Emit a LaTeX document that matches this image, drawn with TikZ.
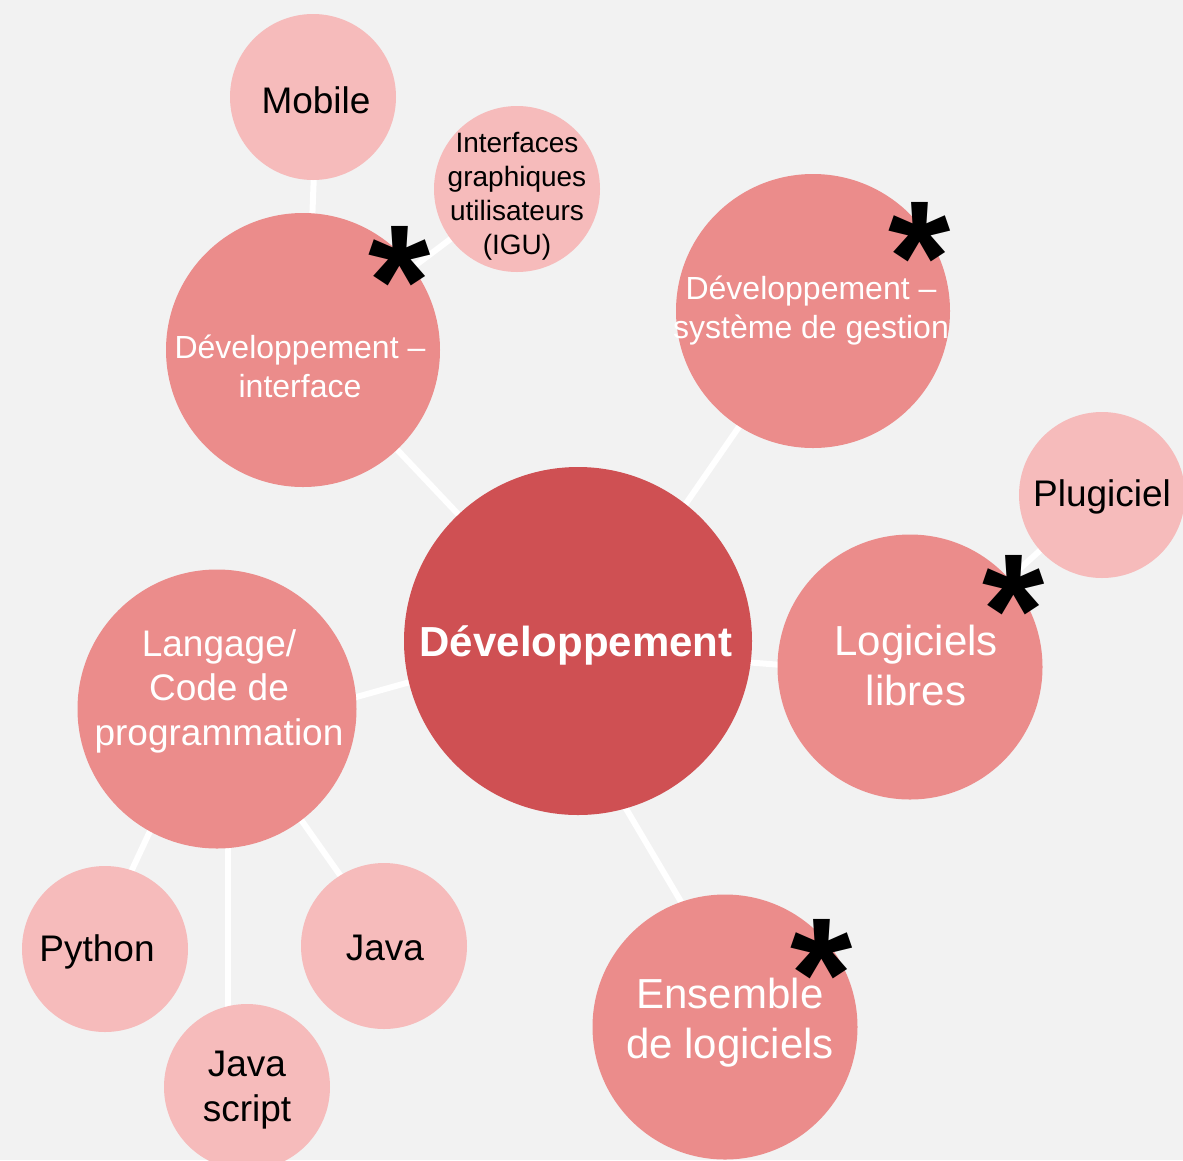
\documentclass[tikz,border=0pt]{standalone}
\usepackage{fontspec}
\setmainfont{Liberation Sans}
\usetikzlibrary{backgrounds}
\definecolor{bgc}{HTML}{F2F2F2}
\definecolor{mainc}{HTML}{CF5053}
\definecolor{midc}{HTML}{EB8C8B}
\definecolor{smallc}{HTML}{F6BBBB}
\begin{document}
\begin{tikzpicture}[x=1pt,y=-1pt,
  bubble/.style={circle,inner sep=0pt,draw=none},
  bigc/.style={bubble,fill=mainc,minimum size=348pt},
  midb/.style={bubble,fill=midc},
  smallb/.style={bubble,fill=smallc,minimum size=166pt},
  wtxt/.style={text=white,align=center},
  btxt/.style={text=black,align=center},
  fa/.style={font=\fontsize{42}{50}\selectfont},
  fb/.style={font=\fontsize{37}{44.5}\selectfont},
  fc/.style={font=\fontsize{32}{39}\selectfont},
  fd/.style={font=\fontsize{28}{34}\selectfont},
  link/.style={draw=white,line width=6pt},
  star/.style={font=\fontsize{160}{160}\bfseries\selectfont,inner sep=0pt,anchor=base,text=black}
]
\useasboundingbox (0,0) rectangle (1183,1160);

% nodes
\node[bigc,label={[wtxt,font=\fontsize{42}{50}\bfseries\selectfont,xshift=-2pt,yshift=-4pt]center:Développement}] (main) at (578,641) {};
\node[midb,minimum size=274pt,label={[wtxt,fc,xshift=-3pt,yshift=-16pt]center:Développement –\\interface}] (devi) at (303,350) {};
\node[smallb,label={[btxt,fb,xshift=3pt,yshift=-3pt]center:Mobile}] (mob) at (313,97) {};
\node[smallb,label={[btxt,fd,yshift=-7pt]center:Interfaces\\graphiques\\utilisateurs\\(IGU)}] (igu) at (517,189) {};
\node[midb,minimum size=274pt,label={[wtxt,fc,xshift=-2pt,yshift=0pt]center:Développement –\\système de gestion}] (devs) at (813,311) {};
\node[midb,minimum size=265pt,label={[wtxt,fa,xshift=6pt,yshift=2pt]center:Logiciels\\libres}] (libres) at (910,667) {};
\node[smallb,label={[btxt,fb,xshift=0pt,yshift=-2pt]center:Plugiciel}] (plug) at (1102,495) {};
\node[midb,minimum size=279pt,label={[wtxt,fb,xshift=2pt,yshift=18pt]center:Langage/\\Code de\\programmation}] (lang) at (217,709) {};
\node[smallb,label={[btxt,fb,xshift=-8pt,yshift=-3pt]center:Python}] (py) at (105,949) {};
\node[smallb,label={[btxt,fb,xshift=1pt,yshift=-2pt]center:Java}] (java) at (384,946) {};
\node[smallb,label={[btxt,fb,xshift=0pt,yshift=-3pt]center:Java\\script}] (js) at (247,1087) {};
\node[midb,minimum size=265pt,label={[wtxt,fa,xshift=5pt,yshift=4pt]center:Ensemble\\de logiciels}] (ens) at (725,1027) {};

% background and connectors
\begin{scope}[on background layer]
\fill[bgc] (0,0) rectangle (1183,1160);
\draw[link] (main.center) -- (devi.center);
\draw[link] ([xshift=13pt]main.center) -- ([xshift=6pt]devs.center);
\draw[link] ([yshift=-8pt]main.center) -- ([yshift=-8pt]libres.center);
\draw[link] ([yshift=6pt]main.center) -- ([yshift=-27pt]lang.center);
\draw[link] ([xshift=-51pt]main.center) -- ([xshift=30pt]ens.center);
\draw[link] ([xshift=4pt]devi.center) -- ([xshift=4pt]mob.center);
\draw[link] (devi.center) -- (igu.center);
\draw[link] ([xshift=-10pt]lang.center) -- ([xshift=-10pt]py.center);
\draw[link] ([xshift=6pt]lang.center) -- ([xshift=6pt]java.center);
\draw[link] ([xshift=11pt]lang.center) -- ([xshift=-19pt]js.center);
\draw[link] (libres.center) -- (plug.center);
\end{scope}

% stars
\node[star] (s1) at (400,336) {*};
\node[star] (s2) at (920,312) {*};
\node[star] (s3) at (1014,665) {*};
\node[star] (s4) at (822,1029) {*};
\end{tikzpicture}
\end{document}
